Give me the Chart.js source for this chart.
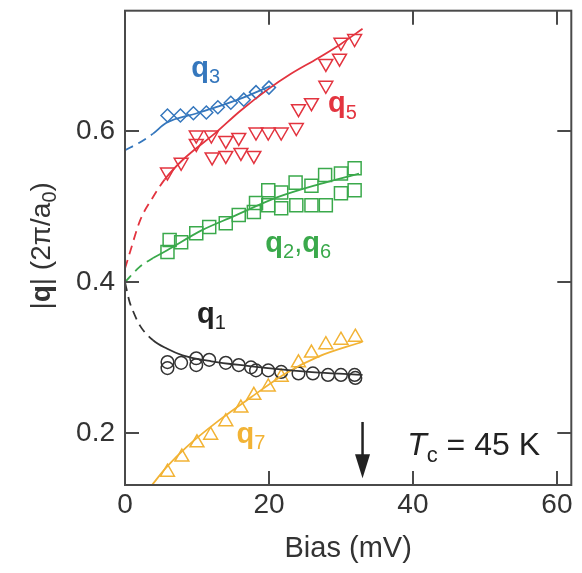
<!DOCTYPE html>
<html><head><meta charset="utf-8">
<script src="https://cdn.jsdelivr.net/npm/chart.js@4.4.1/dist/chart.umd.min.js"></script>
<style>html,body{margin:0;padding:0;background:#fff;overflow:hidden}canvas{display:block}</style>
</head><body>
<canvas id="c" width="582" height="573"></canvas>
<script>
// ---------- data ----------
const xTicks = [0, 20, 40, 60];
const yTicks = [0.2, 0.4, 0.6];

// q3 (blue diamonds)
const q3Bias = [5.9, 7.7, 9.5, 11.3, 12.9, 14.7, 16.5, 18.2, 20.0];
const q3Val  = [0.621, 0.621, 0.624, 0.625, 0.632, 0.638, 0.642, 0.652, 0.658];
const q3FitBias = [0, 2, 3.9, 5.7, 10, 13, 16.5, 20.2];
const q3FitVal  = [0.575, 0.585, 0.597, 0.611, 0.624, 0.633, 0.645, 0.660];

// q5 (red down-triangles)
const q5Bias = [5.9, 7.8, 9.9, 9.9, 12.0, 12.1, 14.0, 14.0, 15.8, 16.1, 17.9, 18.2, 19.9, 21.7, 23.8, 24.1, 25.9, 27.9, 27.9, 29.8, 30.0, 31.9];
const q5Val  = [0.546, 0.559, 0.584, 0.595, 0.595, 0.566, 0.588, 0.568, 0.592, 0.572, 0.568, 0.599, 0.599, 0.599, 0.605, 0.630, 0.638, 0.661, 0.690, 0.697, 0.718, 0.723];
const q5FitBias = [0, 0.7, 2.1, 3.9, 5.5, 8, 12.7, 16, 19.9, 23, 26.8, 30, 33];
const q5FitVal  = [0.418, 0.440, 0.482, 0.513, 0.536, 0.562, 0.599, 0.627, 0.656, 0.676, 0.697, 0.716, 0.736];

// q2,q6 (green squares)
const q26Bias = [5.9, 6.2, 7.8, 9.9, 11.7, 14.0, 15.8, 17.9, 18.2, 19.9, 19.9, 21.7, 21.7, 23.8, 23.7, 25.9, 25.9, 27.9, 27.8, 30.0, 30.0, 31.9, 31.9];
const q26Val  = [0.440, 0.456, 0.453, 0.465, 0.473, 0.478, 0.489, 0.493, 0.505, 0.502, 0.522, 0.498, 0.519, 0.502, 0.532, 0.502, 0.528, 0.502, 0.542, 0.518, 0.544, 0.522, 0.551];
const q26FitBias = [0, 2, 3.9, 5.8, 10.7, 15, 21.3, 27, 32.5];
const q26FitVal  = [0.400, 0.420, 0.432, 0.442, 0.469, 0.487, 0.513, 0.530, 0.544];

// q1 (black circles)
const q1Bias = [5.9, 5.9, 7.8, 9.9, 9.9, 11.7, 14.0, 15.8, 17.5, 18.2, 19.9, 21.7, 24.1, 26.1, 28.2, 30.0, 31.9, 32.0];
const q1Val  = [0.294, 0.286, 0.293, 0.299, 0.290, 0.297, 0.293, 0.290, 0.287, 0.283, 0.283, 0.281, 0.279, 0.279, 0.277, 0.277, 0.277, 0.273];
const q1FitBias = [0, 0.6, 1.1, 2.1, 3.9, 5.8, 8, 12, 17, 22, 27, 33];
const q1FitVal  = [0.400, 0.375, 0.362, 0.342, 0.323, 0.312, 0.303, 0.295, 0.289, 0.284, 0.280, 0.277];

// q7 (orange up-triangles)
const q7Bias = [5.9, 7.9, 10.0, 11.9, 14.0, 16.1, 17.9, 19.9, 21.7, 24.1, 25.9, 27.9, 30.0, 32.0];
const q7Val  = [0.148, 0.168, 0.187, 0.197, 0.215, 0.233, 0.250, 0.261, 0.274, 0.293, 0.306, 0.317, 0.323, 0.327];
const q7FitBias = [3.5, 5.8, 8.5, 13.1, 17.6, 22.3, 26.8, 33];
const q7FitVal  = [0.128, 0.155, 0.181, 0.217, 0.248, 0.279, 0.301, 0.321];

// Tc arrow (bias, from q, to q)
const arrowBias = 33;
const arrowFrom = 0.2146;
const arrowTo = 0.140;

// ---------- styling ----------
const FAM = '"Liberation Sans", Arial, Helvetica, sans-serif';
const C = { blue: '#3577bd', red: '#e3343f', green: '#3aa94b', black: '#333333', orange: '#f2b335', text: '#333333' };
const DASH_END = 5.6; // fits are dashed below this bias
const AREA_RIGHT = 576; // target right edge of the plot frame

function pts(xs, ys) { return xs.map((x, i) => ({ x: x, y: ys[i] })); }

function fitSet(xs, ys, color) {
  return {
    type: 'line', data: pts(xs, ys), borderColor: color, borderWidth: 1.8,
    pointRadius: 0, fill: false, cubicInterpolationMode: 'monotone',
    segment: { borderDash: ctx => (ctx.p1.parsed.x <= DASH_END + 0.01 ? [9, 6] : undefined) }
  };
}
function markerSet(xs, ys, color, style, r, rot) {
  return {
    type: 'scatter', data: pts(xs, ys), showLine: false,
    pointStyle: style, pointRadius: r, pointRotation: rot || 0,
    pointBorderColor: color, pointBackgroundColor: 'rgba(0,0,0,0)', pointBorderWidth: 1.5,
    pointHoverRadius: r
  };
}

// annotation labels (positions in data units: left edge, baseline)
const labels = [
  { x: 9.2, y: 0.672, color: C.blue, runs: [['q', 'b'], ['3', 's']] },
  { x: 28.2, y: 0.625, color: C.red, runs: [['q', 'b'], ['5', 's']] },
  { x: 19.5, y: 0.440, color: C.green, runs: [['q', 'b'], ['2', 's'], [',', 'n'], ['q', 'b'], ['6', 's']] },
  { x: 10.0, y: 0.346, color: '#222', runs: [['q', 'b'], ['1', 's']] },
  { x: 15.5, y: 0.187, color: C.orange, runs: [['q', 'b'], ['7', 's']] },
  { x: 39.2, y: 0.171, color: '#222', size: 32, runs: [['T', 'i'], ['c', 's'], [' = 45 K', 'n']] }
];

function drawRuns(ctx, x, y, runs, base, color) {
  let cx = x;
  ctx.textAlign = 'left'; ctx.textBaseline = 'alphabetic'; ctx.fillStyle = color;
  for (const [t, k] of runs) {
    const sub = k === 's';
    const size = sub ? Math.round(base * 0.7) : base;
    ctx.font = (k === 'i' ? 'italic ' : '') + (k === 'b' ? 'bold ' : '') + size + 'px ' + FAM;
    ctx.fillText(t, cx, y + (sub ? base * 0.21 : 0));
    cx += ctx.measureText(t).width;
  }
  return cx - x;
}
function runsWidth(ctx, runs, base) {
  let w = 0;
  for (const [t, k] of runs) {
    const size = k === 's' ? Math.round(base * 0.7) : base;
    ctx.font = (k === 'i' ? 'italic ' : '') + (k === 'b' ? 'bold ' : '') + size + 'px ' + FAM;
    w += ctx.measureText(t).width;
  }
  return w;
}

const decor = {
  id: 'decor',
  afterDraw(chart) {
    const { ctx, chartArea: a, scales: { x, y } } = chart;
    ctx.save();
    // frame
    ctx.strokeStyle = '#4a4a4a'; ctx.lineWidth = 2;
    ctx.strokeRect(a.left, a.top, a.right - a.left, a.bottom - a.top);
    // inward ticks on all four sides
    const TL = 14;
    ctx.lineWidth = 2;
    ctx.beginPath();
    xTicks.forEach(v => {
      const px = Math.round(x.getPixelForValue(v));
      if (px <= a.left + 1 || px >= a.right - 1) return;
      ctx.moveTo(px, a.bottom); ctx.lineTo(px, a.bottom - TL);
      ctx.moveTo(px, a.top); ctx.lineTo(px, a.top + TL);
    });
    yTicks.forEach(v => {
      const py = Math.round(y.getPixelForValue(v));
      ctx.moveTo(a.left, py); ctx.lineTo(a.left + TL, py);
      ctx.moveTo(a.right, py); ctx.lineTo(a.right - TL, py);
    });
    ctx.stroke();

    // arrow
    const ax = x.getPixelForValue(arrowBias);
    const ay0 = y.getPixelForValue(arrowFrom), ay1 = y.getPixelForValue(arrowTo);
    ctx.strokeStyle = '#222'; ctx.fillStyle = '#222'; ctx.lineWidth = 2.5;
    ctx.beginPath(); ctx.moveTo(ax, ay0); ctx.lineTo(ax, ay1 - 20); ctx.stroke();
    ctx.beginPath(); ctx.moveTo(ax - 7.5, ay1 - 24); ctx.lineTo(ax + 7.5, ay1 - 24); ctx.lineTo(ax, ay1); ctx.closePath(); ctx.fill();

    // series labels
    labels.forEach(l => {
      drawRuns(ctx, x.getPixelForValue(l.x), y.getPixelForValue(l.y), l.runs, l.size || 29, l.color);
    });

    // y-axis title
    const yr = [['|', 'n'], ['q', 'b'], ['| (2π/a', 'n'], ['0', 's'], [')', 'n']];
    const base = 28;
    const w = runsWidth(ctx, yr, base);
    ctx.translate(50, (a.top + a.bottom) / 2 - 2);
    ctx.rotate(-Math.PI / 2);
    drawRuns(ctx, -w / 2, 0, yr, base, C.text);
    ctx.restore();
  }
};

const zeroPad = s => { s.paddingLeft = 0; s.paddingRight = 0; s.paddingTop = 0; s.paddingBottom = 0; };

const chart = new Chart(document.getElementById('c'), {
  type: 'scatter',
  data: {
    datasets: [
      fitSet(q3FitBias, q3FitVal, C.blue),
      fitSet(q5FitBias, q5FitVal, C.red),
      fitSet(q26FitBias, q26FitVal, C.green),
      fitSet(q1FitBias, q1FitVal, C.black),
      fitSet(q7FitBias, q7FitVal, C.orange),
      markerSet(q3Bias, q3Val, C.blue, 'rectRot', 6.5),
      markerSet(q5Bias, q5Val, C.red, 'triangle', 8, 180),
      markerSet(q26Bias, q26Val, C.green, 'rect', 9.2),
      markerSet(q1Bias, q1Val, C.black, 'circle', 6.3),
      markerSet(q7Bias, q7Val, C.orange, 'triangle', 8)
    ]
  },
  options: {
    responsive: false, animation: false, devicePixelRatio: 1,
    layout: { padding: { left: 0, right: 6, top: 10, bottom: 0 } },
    plugins: { legend: { display: false }, tooltip: { enabled: false } },
    scales: {
      x: {
        type: 'linear', position: 'bottom', min: 0, max: 62,
        afterBuildTicks: s => { s.ticks = xTicks.map(v => ({ value: v })); },
        afterFit: s => { s.height = 88; zeroPad(s); },
        grid: { display: false, drawTicks: false }, border: { display: false },
        ticks: { padding: 3, color: C.text, maxRotation: 0, autoSkip: false,
                 font: { family: FAM, size: 28, lineHeight: 1.2 }, callback: v => String(v) },
        title: { display: true, text: 'Bias (mV)', color: C.text,
                 font: { family: FAM, size: 29, lineHeight: 1.2 }, padding: { top: 0, bottom: 7 } }
      },
      y: {
        type: 'linear', position: 'left', min: 0.131, max: 0.76,
        afterBuildTicks: s => { s.ticks = yTicks.map(v => ({ value: v })); },
        afterFit: s => { s.width = 125; zeroPad(s); },
        grid: { display: false, drawTicks: false }, border: { display: false },
        ticks: { padding: 10, color: C.text, autoSkip: false,
                 font: { family: FAM, size: 28, lineHeight: 1.2 }, callback: v => v.toFixed(1) },
        title: { display: false }
      }
    }
  },
  plugins: [decor]
});

// keep the plot frame's right edge where the reference has it
for (let i = 0; i < 8; i++) {
  const err = chart.chartArea.right - AREA_RIGHT;
  if (Math.abs(err) < 0.3) break;
  chart.options.layout.padding.right += err * 0.5;
  chart.update('none');
}
</script>
</body></html>
